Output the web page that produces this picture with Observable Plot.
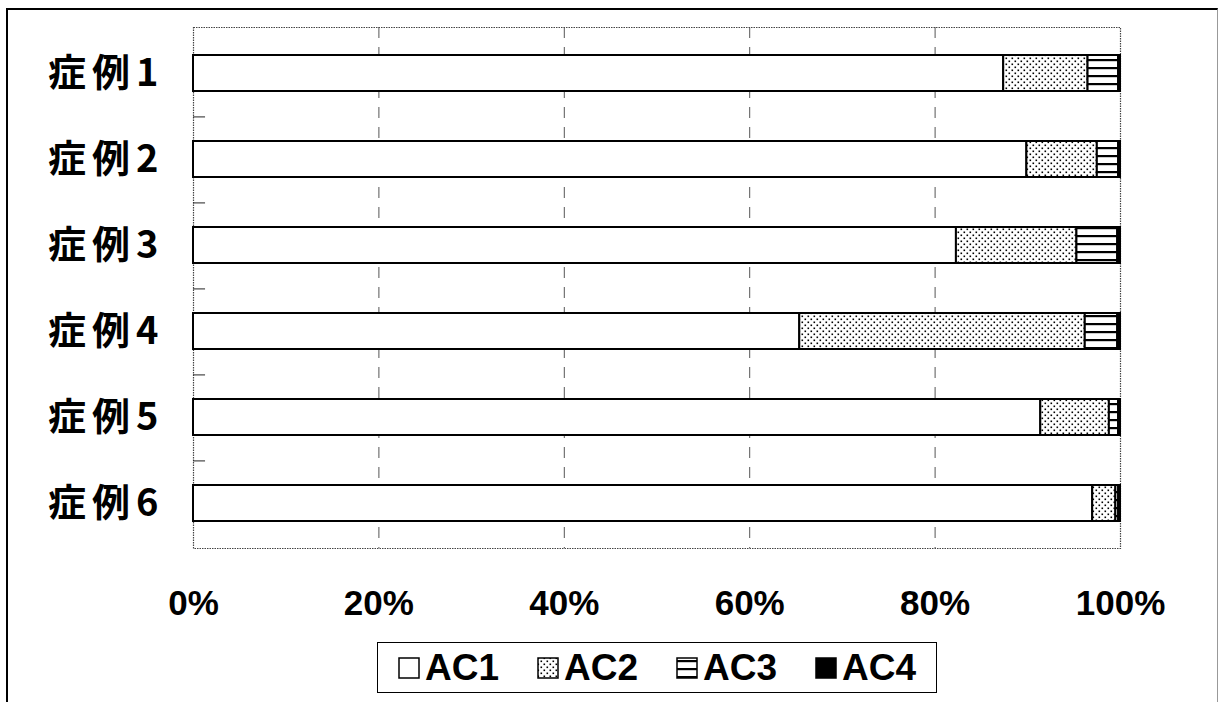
<!DOCTYPE html>
<html>
<head>
<meta charset="utf-8">
<script src="https://cdn.jsdelivr.net/npm/d3@7"></script>
<script src="https://cdn.jsdelivr.net/npm/@observablehq/plot@0.6"></script>
<style>
  html, body { margin: 0; padding: 0; background: #fff; }
  #page { position: relative; width: 1218px; height: 702px; overflow: hidden; background: #fff; }
  #frame { position: absolute; left: 6px; top: 8px; width: 1209px; height: 720px;
           border-left: 2px solid #000; border-top: 2px solid #000; border-right: 1px solid #999; }
  #chart { position: absolute; left: 0; top: 0; }
  #chart g[aria-label="y-axis tick label"] text { letter-spacing: 6px; }
  #legend { position: absolute; left: 377px; top: 642px; width: 558px; height: 49px;
            border: 1.5px solid #000; background: #fff; display: flex; align-items: center;
            justify-content: center; gap: 38px;
            font-family: "Liberation Sans", Arial, sans-serif;
            font-size: 37px; font-weight: bold; color: #000; }
  .item { display: flex; align-items: center; gap: 5px; }
  .sw { width: 22px; height: 22px; }
</style>
</head>
<body>
<div id="page">
  <div id="frame"></div>
  <svg width="0" height="0" style="position:absolute">
    <defs>
      <pattern id="dots" patternUnits="userSpaceOnUse" width="6" height="6">
        <rect width="6" height="6" fill="#fff"></rect>
        <rect x="0.5" y="0.5" width="1.6" height="1.6" fill="#000"></rect>
        <rect x="3.5" y="3.5" width="1.6" height="1.6" fill="#000"></rect>
      </pattern>
      <pattern id="hlines" patternUnits="userSpaceOnUse" width="8" height="8">
        <rect width="8" height="8" fill="#fff"></rect>
        <rect x="0" y="3" width="8" height="2.2" fill="#000"></rect>
      </pattern>
    </defs>
  </svg>
  <div id="chart"></div>
  <div id="legend"></div>
</div>
<script>
// ---- data ----
const cases = ["症例1", "症例2", "症例3", "症例4", "症例5", "症例6"];
const seriesNames = ["AC1", "AC2", "AC3", "AC4"];
const ac1 = [87.4, 89.9, 82.3, 65.4, 91.4, 97.0];
const ac2 = [9.1, 7.6, 13.0, 30.8, 7.4, 2.5];
const ac3 = [3.3, 2.3, 4.4, 3.5, 1.0, 0.3];
const ac4 = [0.2, 0.2, 0.3, 0.3, 0.2, 0.2];
const xTicks = [0, 20, 40, 60, 80, 100];
const gridTicks = [20, 40, 60, 80];
const seriesFills = ["#fff", "url(#dots)", "url(#hlines)", "#000"];

const seriesValues = [ac1, ac2, ac3, ac4];
const rows = [];
cases.forEach((c, i) => {
  seriesNames.forEach((s, j) => rows.push({case: c, series: s, value: seriesValues[j][i]}));
});

const W = 1218, H = 640;
const mTop = 27, mBottom = 92, mLeft = 193, mRight = 98;
const step = (H - mTop - mBottom) / cases.length;

const chart = Plot.plot({
  width: W,
  height: H,
  marginTop: mTop,
  marginBottom: mBottom,
  marginLeft: mLeft,
  marginRight: mRight,
  style: {background: "transparent", overflow: "visible"},
  x: {domain: [0, 100]},
  y: {domain: cases, paddingInner: 0.585, paddingOuter: 0.2925},
  color: {domain: seriesNames, range: seriesFills},
  marks: [
    Plot.ruleX(gridTicks, {stroke: "#555", strokeWidth: 1, strokeDasharray: "11,9"}),
    Plot.frame({stroke: "#444", strokeWidth: 1.2, strokeDasharray: "1.5,1"}),
    Plot.ruleY(cases.slice(0, -1), {y: d => d, x1: 0, x2: 1.3, dy: step / 2, stroke: "#222", strokeWidth: 1}),
    Plot.barX(rows, {x: "value", y: "case", fill: "series", stroke: "#000", strokeWidth: 2, order: seriesNames}),
    Plot.axisY({tickSize: 0, tickPadding: 29, label: null, fontSize: 38, fontWeight: "bold",
                fontFamily: "'Noto Sans CJK JP', sans-serif"}),
    Plot.axisX({ticks: xTicks, tickSize: 0, tickPadding: 42, label: null, tickFormat: d => d + "%",
                fontSize: 35, fontWeight: "bold",
                fontFamily: "'Liberation Sans', Arial, sans-serif"})
  ]
});
document.getElementById("chart").appendChild(chart);

// legend
const legend = document.getElementById("legend");
seriesNames.forEach((s, i) => {
  const item = document.createElement("div");
  item.className = "item";
  item.innerHTML = `<svg class="sw" viewBox="0 0 22 22"><rect x="1" y="1" width="20" height="20" fill="${seriesFills[i]}" stroke="#000" stroke-width="1.5"></rect></svg><span>${s}</span>`;
  legend.appendChild(item);
});
</script>
</body>
</html>
